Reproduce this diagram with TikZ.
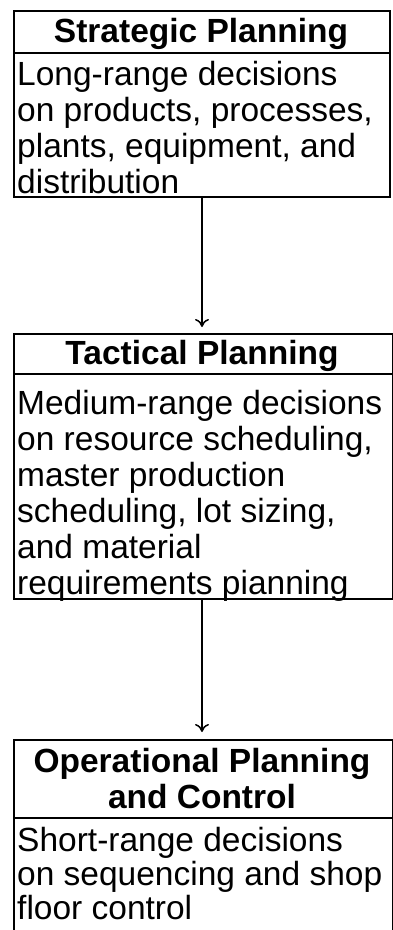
\documentclass[tikz,border=0pt]{standalone}
\usepackage{fontspec}
\setmainfont{Liberation Sans}
\usetikzlibrary{arrows.meta}
% lines of a text block, one \hbox per line, first baseline is the block's baseline
\newcommand{\textlines}[2][36pt]{\vtop{\baselineskip=#1\lineskiplimit=-100pt\lineskip=0pt #2}}
\newcommand{\centerlines}[1]{\vtop{\baselineskip=36pt\lineskiplimit=-100pt\lineskip=0pt\halign{\hfil##\hfil\cr#1}}}
\begin{document}
\begin{tikzpicture}[x=1pt,y=-1pt,
  cell/.style={draw=black, line width=2pt, rectangle, inner sep=0pt, anchor=north west},
  body/.style={inner sep=0pt, anchor=base west, font=\fontsize{33.5}{36}\selectfont},
  head/.style={inner sep=0pt, anchor=base, font=\fontsize{33.5}{36}\selectfont\bfseries},
  link/.style={line width=1.5pt, -{To[length=8pt,width=14pt]}}]
\useasboundingbox (0,0) rectangle (393,930);

% Strategic planning
\node[cell, minimum width=376pt, minimum height=42pt]  (c1t) at (13,10) {};
\node[cell, minimum width=376pt, minimum height=144pt] (c1b) at (13,52) {};
\node[head] (t1) at (201,42) {Strategic Planning};
\node[body] (x1) at (17,85) {\textlines{%
  \hbox{Long-range decisions}
  \hbox{on products, processes,}
  \hbox{plants, equipment, and}
  \hbox{distribution}}};

% Tactical planning
\node[cell, minimum width=379pt, minimum height=40pt]  (c2t) at (13,333) {};
\node[cell, minimum width=379pt, minimum height=225pt] (c2b) at (13,373) {};
\node[head] (t2) at (202,364) {Tactical Planning};
\node[body] (x2) at (17,414) {\textlines{%
  \hbox{Medium-range decisions}
  \hbox{on resource scheduling,}
  \hbox{master production}
  \hbox{scheduling, lot sizing,}
  \hbox{and material}
  \hbox{requirements pianning}}};

% Operational planning and control
\node[cell, minimum width=379pt, minimum height=78pt]  (c3t) at (13,739) {};
\node[cell, minimum width=379pt, minimum height=130pt] (c3b) at (13,817) {};
\node[head] (t3) at (202,772) {\centerlines{Operational Planning\cr and Control\cr}};
\node[body] (x3) at (17,851) {\textlines[34pt]{%
  \hbox{Short-range decisions}
  \hbox{on sequencing and shop}
  \hbox{floor control}}};

% connectors
\draw[link, shorten >=6pt] (c1b.south) -- (c1b.south |- c2t.north);
\draw[link, shorten >=7pt] (c2b.south -| c1b.south) -- (c1b.south |- c3t.north);
\end{tikzpicture}
\end{document}
